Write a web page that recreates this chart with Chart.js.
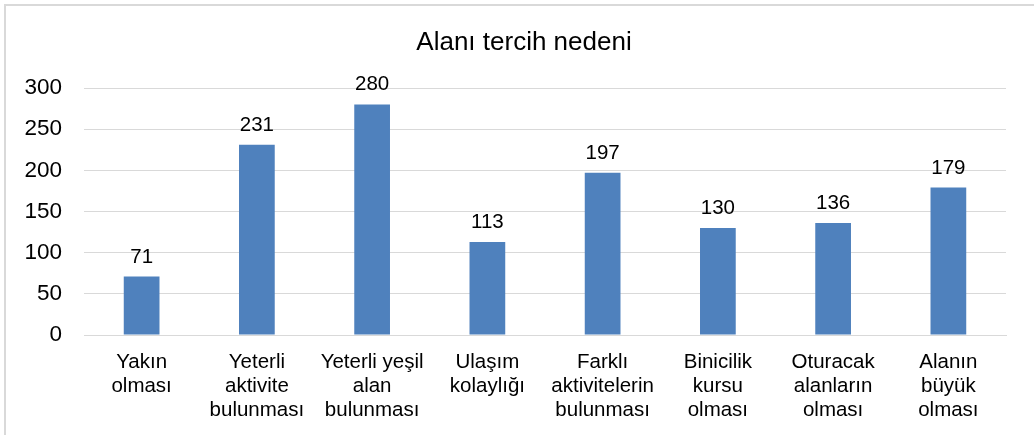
<!DOCTYPE html>
<html>
<head>
<meta charset="utf-8">
<script src="https://cdn.jsdelivr.net/npm/chart.js@4/dist/chart.umd.min.js"></script>
<style>
  html, body { margin: 0; padding: 0; background: #fff; overflow: hidden; }
  #frame { position: absolute; left: 4px; top: 4px; width: 1100px; height: 500px; border: 2px solid #d9d9d9; }
  #wrap { position: absolute; left: 0; top: 0; width: 1034px; height: 435px; }
</style>
</head>
<body>
<div id="frame"></div>
<div id="wrap"><canvas id="chart"></canvas></div>
<script>
// categories (split in lines like the original axis)
var categories = [
  ["Yakın", "olması"],
  ["Yeterli", "aktivite", "bulunması"],
  ["Yeterli yeşil", "alan", "bulunması"],
  ["Ulaşım", "kolaylığı"],
  ["Farklı", "aktivitelerin", "bulunması"],
  ["Binicilik", "kursu", "olması"],
  ["Oturacak", "alanların", "olması"],
  ["Alanın", "büyük", "olması"]
];
var counts = [71, 231, 280, 113, 197, 130, 136, 179];
var yTicks = [0, 50, 100, 150, 200, 250, 300];
var chartTitle = "Alanı tercih nedeni";

var FONT = "'Liberation Sans', Arial, sans-serif";

// value labels above bars + title (the title sits a bit right of canvas centre)
var barLabels = {
  id: 'barLabels',
  afterDatasetsDraw: function(chart) {
    var ctx = chart.ctx;
    var meta = chart.getDatasetMeta(0);
    ctx.save();
    ctx.font = "20.5px " + FONT;
    ctx.fillStyle = "#000";
    ctx.textAlign = "center";
    ctx.textBaseline = "alphabetic";
    meta.data.forEach(function(bar, i) {
      ctx.fillText(String(counts[i]), bar.x, bar.y - 14);
    });
    ctx.font = "26px " + FONT;
    ctx.textBaseline = "middle";
    ctx.fillText(chartTitle, 524, 43);
    ctx.restore();
  }
};

new Chart(document.getElementById('chart').getContext('2d'), {
  type: 'bar',
  data: {
    labels: categories,
    datasets: [{
      data: counts,
      backgroundColor: "#4f81bd",
      borderWidth: 0,
      categoryPercentage: 1,
      barPercentage: 0.31
    }]
  },
  options: {
    responsive: true,
    maintainAspectRatio: false,
    animation: false,
    layout: { padding: { left: 0, right: 28, top: 88, bottom: 0 } },
    plugins: {
      legend: { display: false },
      tooltip: { enabled: false },
      title: { display: false }
    },
    scales: {
      x: {
        grid: { display: false, drawTicks: false },
        border: { display: true, color: "#d9d9d9", width: 1 },
        ticks: {
          color: "#000",
          font: { family: FONT, size: 20.5, lineHeight: 1.17 },
          padding: 15,
          maxRotation: 0,
          minRotation: 0,
          autoSkip: false
        },
        afterFit: function(scale) { scale.height = 100; }
      },
      y: {
        min: 0,
        max: 300,
        grid: { color: "#d9d9d9", lineWidth: 1, drawTicks: false },
        border: { display: false },
        afterBuildTicks: function(scale) {
          scale.ticks = yTicks.map(function(v) { return { value: v }; });
        },
        ticks: {
          color: "#000",
          font: { family: FONT, size: 22.5 },
          padding: 22
        },
        afterFit: function(scale) { scale.width = 84; }
      }
    }
  },
  plugins: [barLabels]
});
</script>
</body>
</html>
